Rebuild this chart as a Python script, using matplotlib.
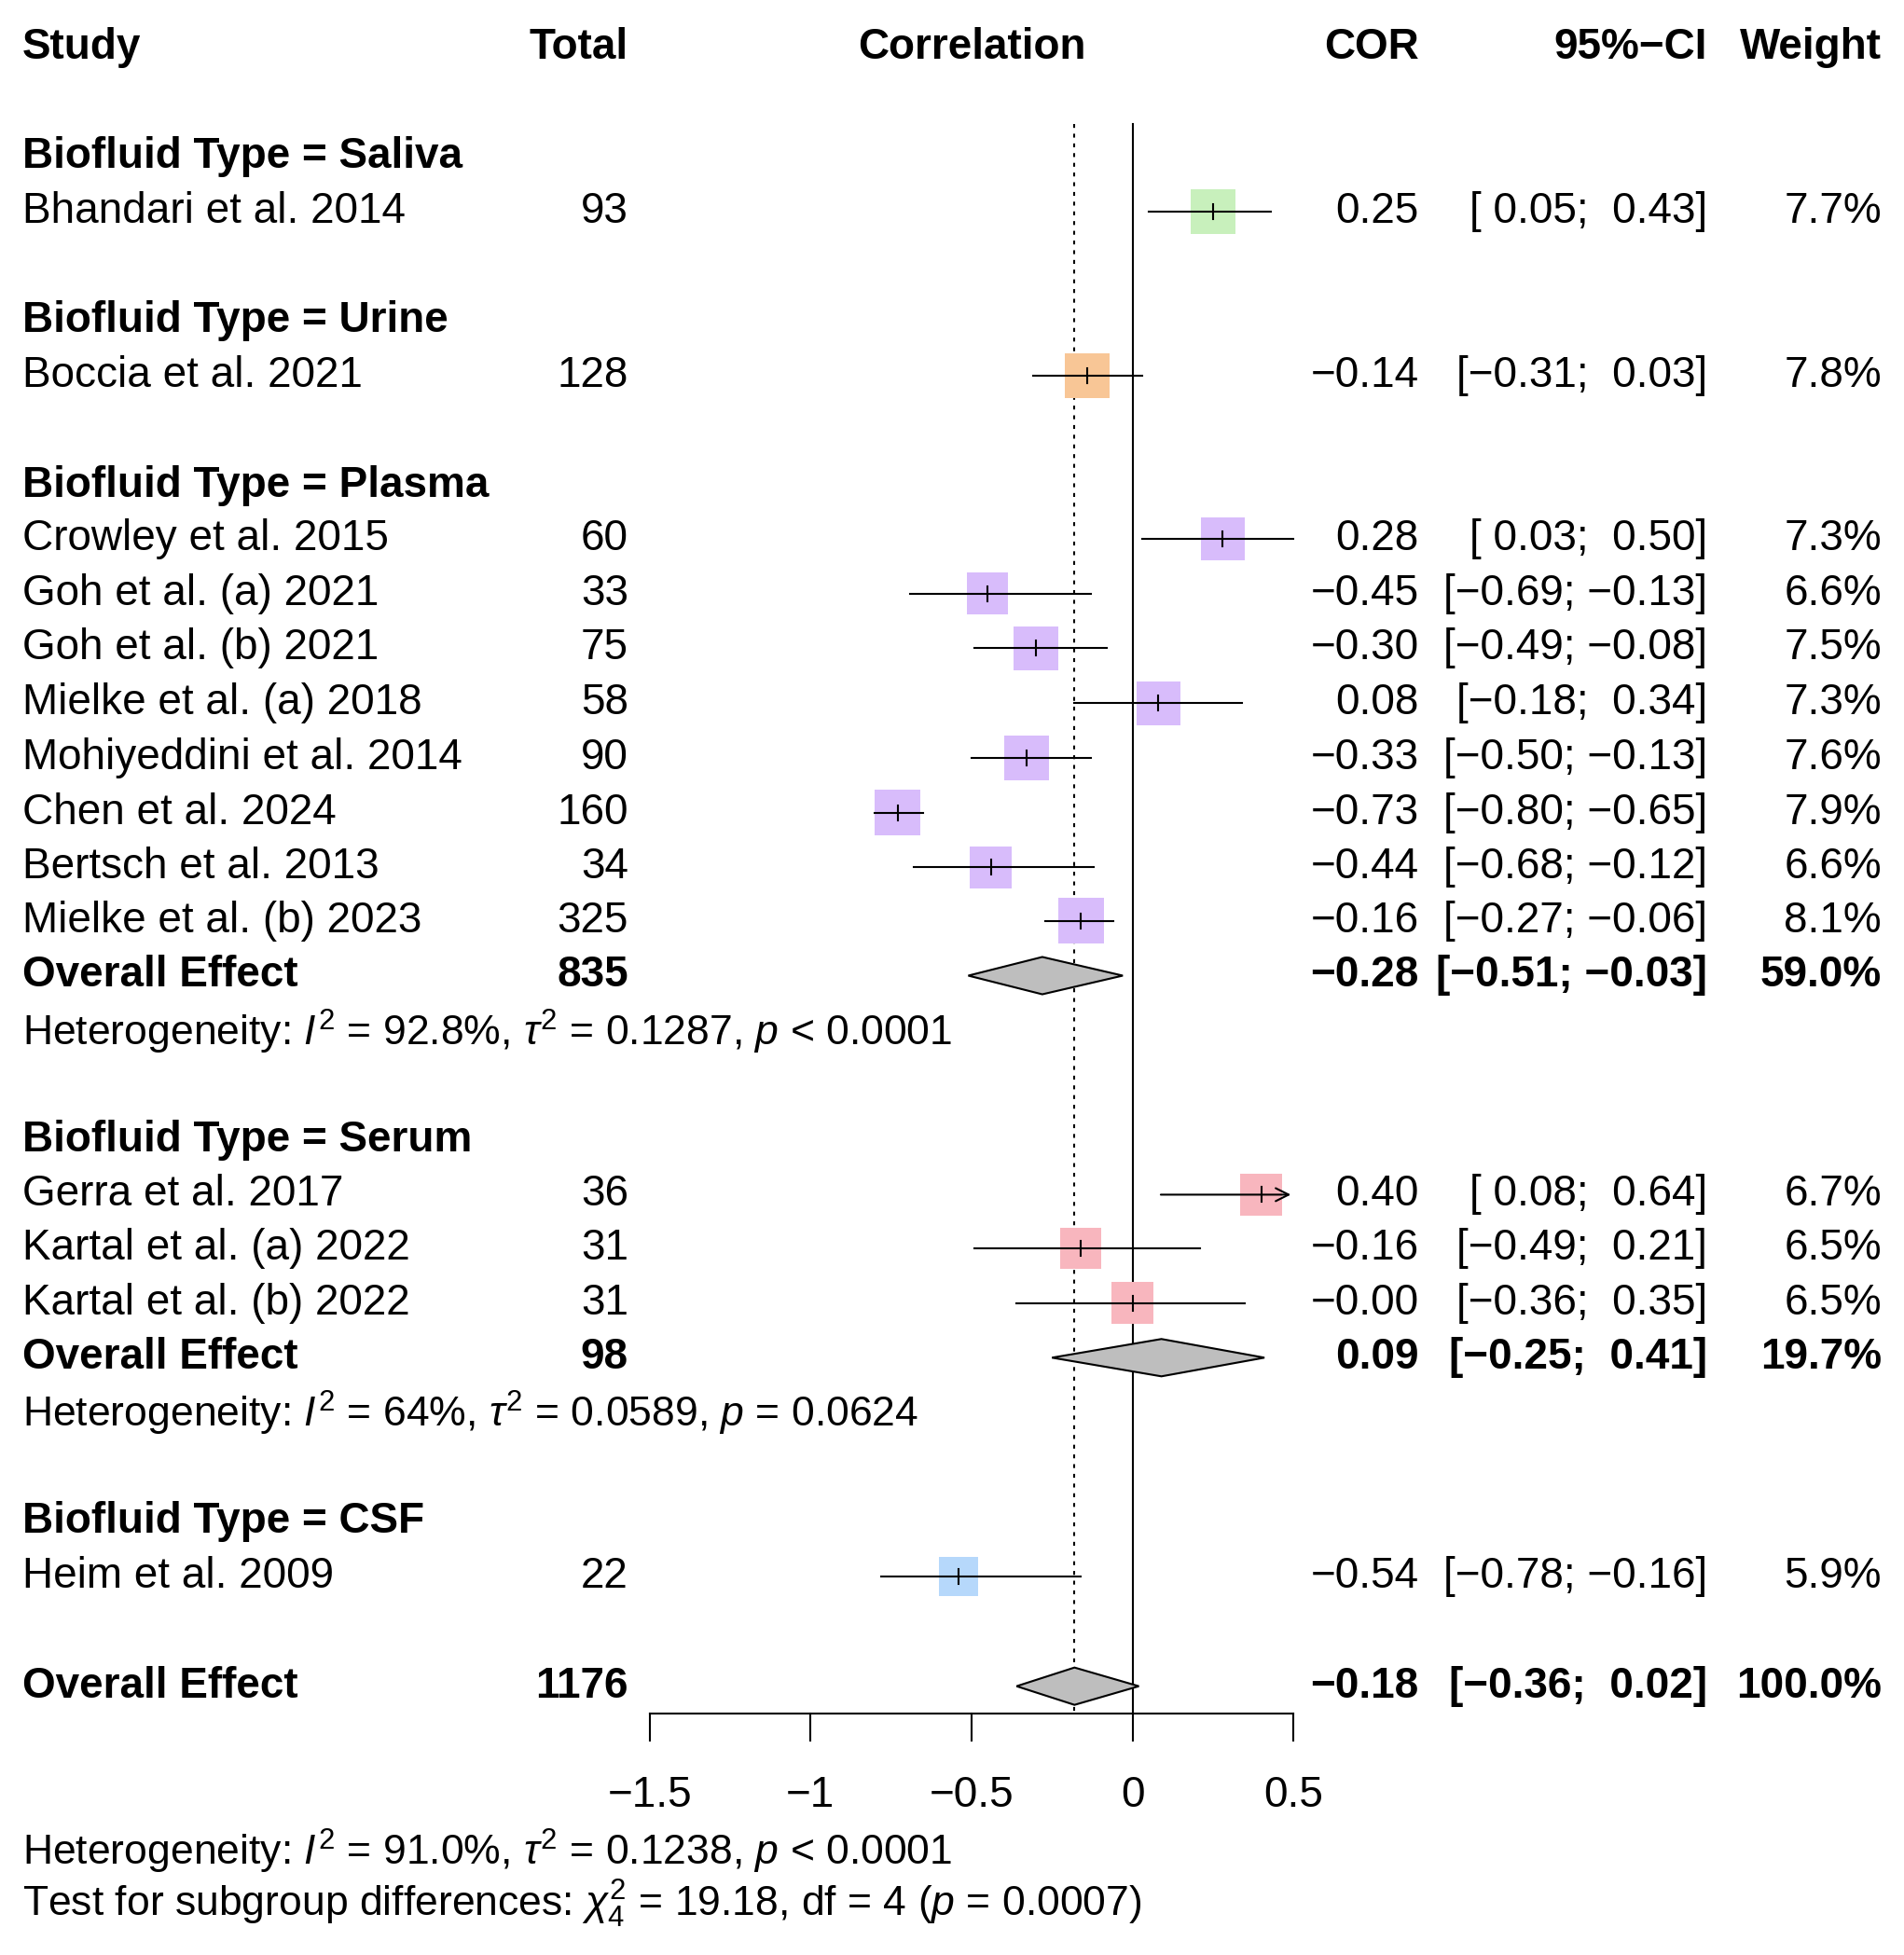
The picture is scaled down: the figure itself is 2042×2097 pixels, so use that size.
import numpy as np
import matplotlib
matplotlib.use("Agg")
import matplotlib.pyplot as plt
from matplotlib.patches import Rectangle, Polygon

plt.rcParams['font.family'] = ['Liberation Sans', 'DejaVu Sans']
plt.rcParams['mathtext.fontset'] = 'custom'
plt.rcParams['mathtext.rm'] = 'Liberation Sans'
plt.rcParams['mathtext.it'] = 'Liberation Sans:italic'

# ---------------- data ----------------
studies = ["Bhandari et al. 2014", "Boccia et al. 2021", "Crowley et al. 2015", "Goh et al. (a) 2021",
           "Goh et al. (b) 2021", "Mielke et al. (a) 2018", "Mohiyeddini et al. 2014", "Chen et al. 2024",
           "Bertsch et al. 2013", "Mielke et al. (b) 2023", "Gerra et al. 2017", "Kartal et al. (a) 2022",
           "Kartal et al. (b) 2022", "Heim et al. 2009"]
group = ["Saliva", "Urine", "Plasma", "Plasma", "Plasma", "Plasma", "Plasma", "Plasma", "Plasma", "Plasma",
         "Serum", "Serum", "Serum", "CSF"]
total = [93, 128, 60, 33, 75, 58, 90, 160, 34, 325, 36, 31, 31, 22]
cor = [0.25, -0.14, 0.28, -0.45, -0.30, 0.08, -0.33, -0.73, -0.44, -0.16, 0.40, -0.16, -0.00, -0.54]
lo = [0.05, -0.31, 0.03, -0.69, -0.49, -0.18, -0.50, -0.80, -0.68, -0.27, 0.08, -0.49, -0.36, -0.78]
hi = [0.43, 0.03, 0.50, -0.13, -0.08, 0.34, -0.13, -0.65, -0.12, -0.06, 0.64, 0.21, 0.35, -0.16]
weight = [7.7, 7.8, 7.3, 6.6, 7.5, 7.3, 7.6, 7.9, 6.6, 8.1, 6.7, 6.5, 6.5, 5.9]
colors = {"Saliva": "#c8f0bc", "Urine": "#f8c696", "Plasma": "#d8bcfb", "Serum": "#f8b6be", "CSF": "#b6d8fb"}

# subgroup summaries
sub_groups = ["Plasma", "Serum"]
sub_total = [835, 98]
sub_cor = [-0.28, 0.09]
sub_lo = [-0.51, -0.25]
sub_hi = [-0.03, 0.41]
sub_weight = [59.0, 19.7]
sub_het = [r"Heterogeneity: $I^2$ = 92.8%, $\tau^2$ = 0.1287, $p$ < 0.0001",
           r"Heterogeneity: $I^2$ = 64%, $\tau^2$ = 0.0589, $p$ = 0.0624"]
ov_total, ov_cor, ov_lo, ov_hi = 1176, -0.18, -0.36, 0.02
ticks = [-1.5, -1, -0.5, 0, 0.5]

# ---------------- layout (rows) ----------------
study_y = [170, 302, 433, 477, 521, 565, 609, 653, 697, 740, 960, 1003, 1047, 1267]
header_y = {"Saliva": 126, "Urine": 258, "Plasma": 390, "Serum": 916, "CSF": 1223}
sub_y = [784, 1091]
het_y = [829, 1136]
ov_y = 1355
axis_y = 1377

X0, SC = 910, 388 / 1.5
def xv(v):
    return X0 + SC * v

def m(s):
    return s.replace("-", "\u2212")

fig = plt.figure(figsize=(20.42, 20.97), dpi=100)
ax = fig.add_axes([0, 0, 1, 1])
ax.set_xlim(0, 1530); ax.set_ylim(1571, 0); ax.axis("off")
FS = 33
FH = 32

def row_text(y, name, n, c, l, h, w, bold=False):
    fw = "bold" if bold else "normal"
    ax.text(18, y, name, fontsize=FS, va="center", ha="left", weight=fw)
    ax.text(505, y, str(n), fontsize=FS, va="center", ha="right", weight=fw)
    ax.text(1140, y, m(f"{c:.2f}"), fontsize=FS, va="center", ha="right", weight=fw)
    ci = f"[{l:5.2f};{h:6.2f}]".replace("[ -", "[-")
    ax.text(1372, y, m(ci), fontsize=FS, va="center", ha="right", weight=fw)
    ax.text(1512, y, f"{w:.1f}%", fontsize=FS, va="center", ha="right", weight=fw)

for x, s, ha in [(18, "Study", "left"), (505, "Total", "right"), (781, "Correlation", "center"),
                 (1140, "COR", "right"), (1372, "95%\u2212CI", "right"), (1512, "Weight", "right")]:
    ax.text(x, 38, s, fontsize=FS, weight="bold", ha=ha, va="center")
for g, y in header_y.items():
    ax.text(18, y, f"Biofluid Type = {g}", fontsize=FS, weight="bold", va="center")

ax.plot([xv(0), xv(0)], [100, axis_y], color="k", lw=1.5)
ax.plot([xv(ov_cor), xv(ov_cor)], [100, axis_y], color="k", lw=1.5, ls=(0, (2, 3)))

for i in range(len(studies)):
    y = study_y[i]
    s = 13 * np.sqrt(weight[i])
    ax.add_patch(Rectangle((xv(cor[i]) - s / 2, y - s / 2), s, s, color=colors[group[i]], lw=0, zorder=2))
    if hi[i] > 0.5:
        ax.annotate("", xy=(xv(0.5), y), xytext=(xv(lo[i]), y),
                    arrowprops=dict(arrowstyle="->", lw=1.5, color="k", mutation_scale=25), zorder=3)
    else:
        ax.plot([xv(lo[i]), xv(hi[i])], [y, y], color="k", lw=1.5, zorder=3)
    ax.plot([xv(cor[i])] * 2, [y - 6, y + 6], color="k", lw=1.5, zorder=3)
    row_text(y, studies[i], total[i], cor[i], lo[i], hi[i], weight[i])

def diamond(y, c, l, h):
    ax.add_patch(Polygon([(xv(l), y), (xv(c), y - 15), (xv(h), y), (xv(c), y + 15)],
                         closed=True, fc="#bebebe", ec="k", lw=1.5, zorder=3))

for j in range(len(sub_groups)):
    diamond(sub_y[j], sub_cor[j], sub_lo[j], sub_hi[j])
    row_text(sub_y[j], "Overall Effect", sub_total[j], sub_cor[j], sub_lo[j], sub_hi[j], sub_weight[j], bold=True)
    ax.text(18, het_y[j], sub_het[j], fontsize=FH, va="center")

diamond(ov_y, ov_cor, ov_lo, ov_hi)
row_text(ov_y, "Overall Effect", ov_total, ov_cor, ov_lo, ov_hi, 100.0, bold=True)

ax.plot([xv(ticks[0]), xv(ticks[-1])], [axis_y, axis_y], color="k", lw=1.5)
for t in ticks:
    ax.plot([xv(t)] * 2, [axis_y, axis_y + 22], color="k", lw=1.5)
    ax.text(xv(t), 1443, m(f"{t:g}"), fontsize=FS, ha="center", va="center")

ax.text(18, 1488, r"Heterogeneity: $I^2$ = 91.0%, $\tau^2$ = 0.1238, $p$ < 0.0001", fontsize=FH, va="center")
ax.text(18, 1530, r"Test for subgroup differences: $\chi^2_4$ = 19.18, df = 4 ($p$ = 0.0007)", fontsize=FH, va="center")

fig.savefig("out.png", dpi=100)
